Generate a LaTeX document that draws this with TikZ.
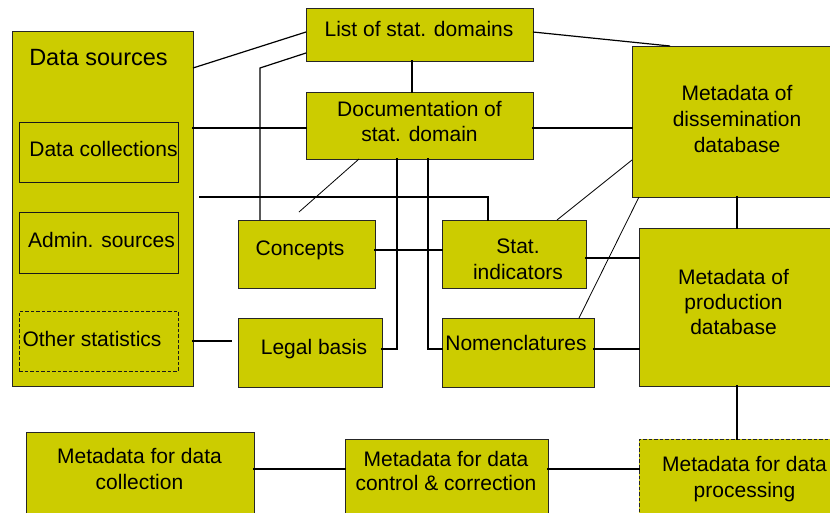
\documentclass[tikz,border=0pt]{standalone}
\usepackage{fontspec}
\setmainfont{Liberation Sans}
\definecolor{boxfill}{RGB}{204,204,0}
\tikzset{
  box/.style={draw=black!85, line width=0.9pt, fill=boxfill, rectangle, inner sep=0pt, outer sep=0pt},
  inbox/.style={draw=black!90, line width=0.9pt, rectangle, inner sep=0pt, outer sep=0pt},
  dbox/.style={dash pattern=on 3.5pt off 2pt},
  lbl/.style={anchor=base, inner sep=0pt, font=\fontsize{21}{25}\selectfont},
  biglbl/.style={anchor=base, inner sep=0pt, font=\fontsize{23.5}{28}\selectfont},
  conn/.style={line width=1.9pt, line cap=rect},
  diag/.style={line width=1.2pt},
  fine/.style={line width=0.8pt}
}
\begin{document}
\begin{tikzpicture}[x=1pt,y=-1pt]
\useasboundingbox (0,0) rectangle (830,512);
\fill[white] (0,0) rectangle (830,512);
\clip (0,0) rectangle (830,512);

% boxes
\node[box, minimum width=181pt, minimum height=355pt] (ds) at (102.5,208.5) {};
\node[inbox, minimum width=159pt, minimum height=60pt] (dc) at (98.5,152) {};
\node[inbox, minimum width=159pt, minimum height=61pt] (as) at (98.5,242.5) {};
\node[inbox, dbox, minimum width=159pt, minimum height=60pt] (os) at (98.5,341) {};
\node[box, minimum width=227pt, minimum height=53pt] (list) at (419.5,34.5) {};
\node[box, minimum width=227pt, minimum height=67pt] (doc) at (419.5,125.5) {};
\node[box, minimum width=230pt, minimum height=151pt] (diss) at (747,121.5) {};
\node[box, minimum width=223pt, minimum height=158pt] (prod) at (750.5,307) {};
\node[box, minimum width=137pt, minimum height=68pt] (conc) at (306.5,254) {};
\node[box, minimum width=144pt, minimum height=69pt] (legal) at (310,352.5) {};
\node[box, minimum width=144pt, minimum height=68pt] (stat) at (514,254) {};
\node[box, minimum width=152pt, minimum height=69pt] (nom) at (518,352.5) {};
\node[box, minimum width=228pt, minimum height=110pt] (mcol) at (140,487) {};
\node[box, minimum width=203pt, minimum height=103pt] (mctl) at (446.5,490.5) {};
\node[box, dbox, minimum width=230pt, minimum height=103pt] (mproc) at (754,490.5) {};

% texts
\node[biglbl] (t-ds) at (98.5,65.7) {Data sources};
\node[lbl] (t-dc) at (103.5,156.7) {Data collections};
\node[lbl] (t-as) at (101.5,247.7) {Admin. sources};
\node[lbl] (t-os) at (92,346.7) {Other statistics};
\node[lbl] (t-list) at (419,36) {List of stat. domains};
\node[lbl] (t-doc1) at (419.5,116.7) {Documentation of};
\node[lbl] (t-doc2) at (419.5,141.7) {stat. domain};
\node[lbl] (t-diss1) at (737,100.7) {Metadata of};
\node[lbl] (t-diss2) at (737,126.5) {dissemination};
\node[lbl] (t-diss3) at (737,152.3) {database};
\node[lbl] (t-prod1) at (733.5,284) {Metadata of};
\node[lbl] (t-prod2) at (733.5,309) {production};
\node[lbl] (t-prod3) at (733.5,334) {database};
\node[lbl] (t-conc) at (300,255.7) {Concepts};
\node[lbl] (t-legal) at (314,354) {Legal basis};
\node[lbl] (t-stat1) at (518,253.3) {Stat.};
\node[lbl] (t-stat2) at (518,279) {indicators};
\node[lbl] (t-nom) at (516,350.7) {Nomenclatures};
\node[lbl] (t-mcol1) at (139.5,463.3) {Metadata for data};
\node[lbl] (t-mcol2) at (139.5,489.3) {collection};
\node[lbl] (t-mctl1) at (446,466) {Metadata for data};
\node[lbl] (t-mctl2) at (446,490.5) {control \& correction};
\node[lbl] (t-mproc1) at (744.5,471.7) {Metadata for data};
\node[lbl] (t-mproc2) at (744.5,497.3) {processing};

% connectors
\draw[diag] (ds.east |- 0,68) -- (list.west |- 0,32);
\draw[diag] (list.west |- 0,53) -- (260,68) -- (260,0 |- conc.north);
\draw[conn] (list.south -| 412,0) -- (doc.north -| 412,0);
\draw[conn] (ds.east |- 0,128) -- (doc.west |- 0,128);
\draw[conn] (doc.east |- 0,128) -- (diss.west |- 0,128);
\draw[diag] (list.east |- 0,32) -- (670,0 |- diss.north);
\draw[fine] (doc.south -| 359,0) -- (299,212);
\draw[conn] (200,197) -- (488,197) -- (488,0 |- stat.north);
\draw[conn] (doc.south -| 397,0) -- (397,349) -- (legal.east |- 0,349);
\draw[conn] (doc.south -| 428,0) -- (428,349) -- (nom.west |- 0,349);
\draw[conn] (conc.east |- 0,250) -- (stat.west |- 0,250);
\draw[conn] (stat.east |- 0,258) -- (prod.west |- 0,258);
\draw[conn] (nom.east |- 0,349) -- (prod.west |- 0,349);
\draw[fine] (stat.north -| 557,0) -- (diss.west |- 0,160);
\draw[fine] (nom.north -| 579,0) -- (diss.south -| 639,0);
\draw[conn] (diss.south -| 737,0) -- (prod.north -| 737,0);
\draw[conn] (ds.east |- 0,341) -- (231,341);
\draw[conn] (prod.south -| 737,0) -- (mproc.north -| 737,0);
\draw[conn] (mcol.east |- 0,469) -- (mctl.west |- 0,469);
\draw[conn] (mctl.east |- 0,469) -- (mproc.west |- 0,469);
\end{tikzpicture}
\end{document}
